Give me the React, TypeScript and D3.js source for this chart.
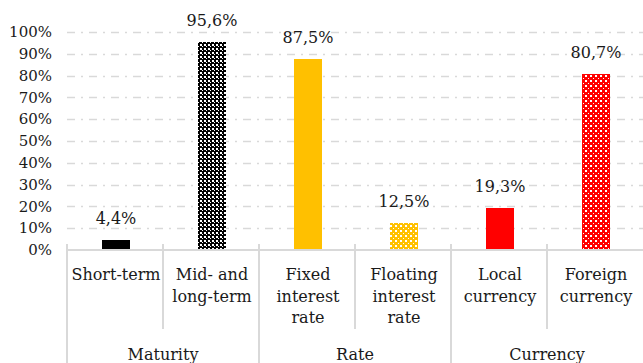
import { useEffect, useRef } from 'react'
import * as d3 from 'd3'

const categories = ['Short-term', 'Mid- and long-term', 'Fixed interest rate', 'Floating interest rate', 'Local currency', 'Foreign currency']
const catLines = [['Short-term'], ['Mid- and', 'long-term'], ['Fixed', 'interest', 'rate'], ['Floating', 'interest', 'rate'], ['Local', 'currency'], ['Foreign', 'currency']]
const values = [0.044, 0.956, 0.875, 0.125, 0.193, 0.807]
const valueLabels = ['4,4%', '95,6%', '87,5%', '12,5%', '19,3%', '80,7%']
const fills = ['#000000', 'url(#patBlack)', '#FFC000', 'url(#patYellow)', '#FF0000', 'url(#patRed)']
const groups = [
  { name: 'Maturity', from: 0, to: 2 },
  { name: 'Rate', from: 2, to: 4 },
  { name: 'Currency', from: 4, to: 6 },
]
const yTicks = [0, 0.1, 0.2, 0.3, 0.4, 0.5, 0.6, 0.7, 0.8, 0.9, 1]

const W = 643, H = 363
const FONT = '"DejaVu Serif", serif'
const GRID = '#d9d9d9'
const INK = '#1a1a1a'

export default function App() {
  const svgRef = useRef<SVGSVGElement>(null)

  useEffect(() => {
    const svg = d3.select(svgRef.current)
    svg.selectAll('*').remove()

    const x = d3.scaleBand<string>().domain(categories).range([67, 643]).paddingInner(0).paddingOuter(0)
    const y = d3.scaleLinear().domain([0, 1]).range([250, 32])
    const bw = x.bandwidth()
    const barW = 28
    const cx = (d: string) => Math.round(x(d)! + bw / 2) + 1

    // patterns
    const defs = svg.append('defs')
    const mkPat = (id: string, size: number, bg: string, fg: string, cells: number[][]) => {
      const p = defs.append('pattern').attr('id', id).attr('patternUnits', 'userSpaceOnUse')
        .attr('width', size).attr('height', size)
      p.append('rect').attr('width', size).attr('height', size).attr('fill', bg)
      cells.forEach(([px, py, w, h]) => p.append('rect').attr('x', px).attr('y', py).attr('width', w).attr('height', h).attr('fill', fg))
    }
    mkPat('patBlack', 4, '#000', '#fff', [[0, 0, 2, 2], [2, 2, 1, 1]])
    mkPat('patYellow', 5, '#FFC000', '#fff', [[0, 0, 2, 2], [3, 3, 1, 1]])
    mkPat('patRed', 5, '#FF0000', '#fff', [[0, 0, 2, 2], [3, 3, 1, 1]])

    // gridlines
    svg.append('g').selectAll('line')
      .data(yTicks.slice(1))
      .join('line')
      .attr('x1', 67).attr('x2', W)
      .attr('y1', d => Math.round(y(d)) + 0.5).attr('y2', d => Math.round(y(d)) + 0.5)
      .attr('stroke', GRID).attr('stroke-width', 1.3)
      .attr('stroke-dasharray', '8,6,2,6')

    // y tick labels
    svg.append('g').selectAll('text')
      .data(yTicks)
      .join('text')
      .attr('x', 52).attr('y', d => y(d))
      .attr('dy', '0.35em')
      .attr('text-anchor', 'end')
      .attr('font-family', FONT).attr('font-size', 15).attr('fill', INK)
      .text(d => `${Math.round(d * 100)}%`)

    // bars
    svg.append('g').selectAll('rect')
      .data(categories)
      .join('rect')
      .attr('x', d => cx(d) - barW / 2)
      .attr('width', barW)
      .attr('y', (_, i) => Math.round(y(values[i])))
      .attr('height', (_, i) => y(0) - Math.round(y(values[i])))
      .attr('fill', (_, i) => fills[i])

    // value labels
    svg.append('g').selectAll('text')
      .data(categories)
      .join('text')
      .attr('x', d => cx(d))
      .attr('y', (_, i) => y(values[i]) - 16)
      .attr('text-anchor', 'middle')
      .attr('font-family', FONT).attr('font-size', 16).attr('fill', INK)
      .text((_, i) => valueLabels[i])

    // baseline
    svg.append('line')
      .attr('x1', 67).attr('x2', W)
      .attr('y1', y(0)).attr('y2', y(0))
      .attr('stroke', GRID).attr('stroke-width', 2)

    // separators
    const edges = d3.range(categories.length).map(i => Math.round(x(categories[i])!))
    const groupEdges = new Set(groups.map(g => g.from))
    svg.append('g').selectAll('line')
      .data(d3.range(categories.length))
      .join('line')
      .attr('x1', i => edges[i]).attr('x2', i => edges[i])
      .attr('y1', 244)
      .attr('y2', i => groupEdges.has(i) ? H : 329)
      .attr('stroke', GRID).attr('stroke-width', 2)

    // category labels
    const cat = svg.append('g').selectAll('text')
      .data(categories)
      .join('text')
      .attr('text-anchor', 'middle')
      .attr('font-family', FONT).attr('font-size', 16).attr('fill', INK)
    cat.each(function (d, i) {
      const t = d3.select(this)
      catLines[i].forEach((ln, j) => {
        t.append('tspan').attr('x', cx(d)).attr('y', 280 + j * 21.5).text(ln)
      })
    })

    // group labels
    svg.append('g').selectAll('text')
      .data(groups)
      .join('text')
      .attr('x', g => (x(categories[g.from])! + x(categories[g.to - 1])! + bw) / 2)
      .attr('y', 360)
      .attr('text-anchor', 'middle')
      .attr('font-family', FONT).attr('font-size', 16).attr('fill', INK)
      .text(g => g.name)
  }, [])

  return (
    <svg ref={svgRef} width={W} height={H}
      style={{ position: 'absolute', left: 0, top: 0, display: 'block', background: '#fff' }} />
  )
}
